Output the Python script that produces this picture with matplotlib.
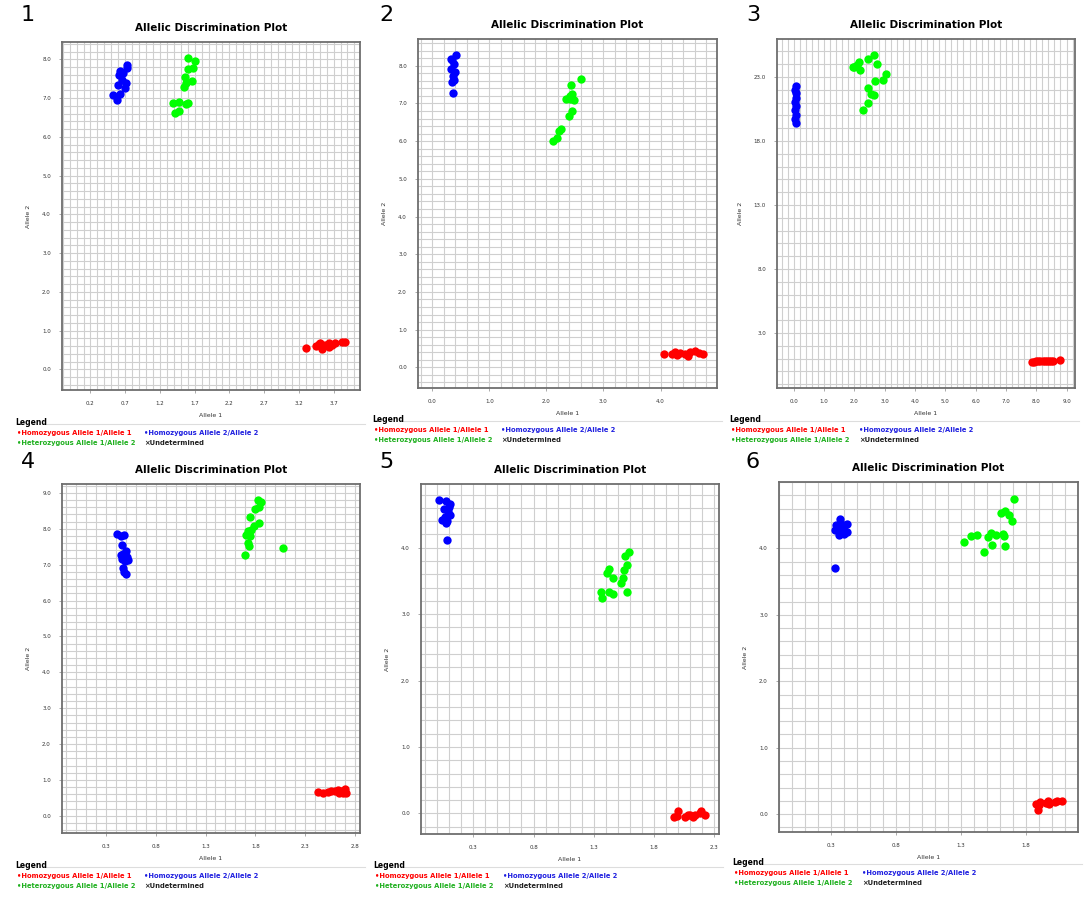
import matplotlib
matplotlib.use("Agg")
import matplotlib.pyplot as plt
from matplotlib.ticker import MultipleLocator, FixedLocator, FormatStrFormatter
from matplotlib.lines import Line2D

W, H = 1089, 921

# panel 1
p1_red_x = [3.30, 3.44, 3.49, 3.53, 3.58, 3.64, 3.68, 3.72, 3.82, 3.87, 3.51, 3.63]
p1_red_y = [0.55, 0.60, 0.65, 0.53, 0.62, 0.69, 0.62, 0.69, 0.72, 0.71, 0.69, 0.58]
p1_blue_x = [0.53, 0.585, 0.62, 0.60, 0.65, 0.71, 0.67, 0.72, 0.63, 0.70, 0.73, 0.61]
p1_blue_y = [7.08, 6.95, 7.11, 7.33, 7.48, 7.40, 7.66, 7.78, 7.70, 7.27, 7.85, 7.59]
p1_green_x = [1.39, 1.48, 1.42, 1.47, 1.575, 1.61, 1.55, 1.565, 1.66, 1.61, 1.67, 1.61, 1.70, 1.58]
p1_green_y = [6.88, 6.90, 6.62, 6.66, 6.86, 6.88, 7.29, 7.54, 7.44, 7.76, 7.78, 8.03, 7.97, 7.40]

# panel 2
p2_red_x = [4.06, 4.21, 4.29, 4.35, 4.43, 4.48, 4.52, 4.61, 4.67, 4.74, 4.26]
p2_red_y = [0.36, 0.36, 0.32, 0.39, 0.36, 0.30, 0.41, 0.43, 0.38, 0.36, 0.41]
p2_blue_x = [0.42, 0.35, 0.38, 0.33, 0.39, 0.36, 0.38, 0.35, 0.37, 0.32]
p2_blue_y = [8.28, 8.16, 8.05, 7.92, 7.83, 7.72, 7.61, 7.57, 7.29, 8.19]
p2_green_x = [2.12, 2.18, 2.22, 2.25, 2.40, 2.45, 2.35, 2.41, 2.49, 2.45, 2.44, 2.60, 2.41]
p2_green_y = [6.00, 6.08, 6.26, 6.33, 6.68, 6.79, 7.11, 7.13, 7.10, 7.26, 7.48, 7.64, 7.21]

# panel 3
p3_red_x = [7.87, 7.94, 8.01, 8.07, 8.14, 8.21, 8.29, 8.36, 8.43, 8.50, 8.56, 8.80]
p3_red_y = [0.73, 0.76, 0.78, 0.80, 0.81, 0.82, 0.83, 0.83, 0.83, 0.83, 0.83, 0.91]
p3_blue_x = [0.08, 0.07, 0.05, 0.09, 0.04, 0.08, 0.05, 0.07, 0.09, 0.03]
p3_blue_y = [22.30, 21.77, 21.07, 20.73, 20.42, 20.03, 19.69, 19.43, 21.33, 21.98]
p3_green_x = [2.00, 2.09, 2.17, 2.20, 2.46, 2.66, 2.74, 3.04, 2.94, 2.67, 2.44, 2.55, 2.66, 2.44, 2.28, 1.95]
p3_green_y = [23.81, 23.94, 24.17, 23.55, 24.38, 24.72, 24.02, 23.23, 22.77, 22.71, 22.14, 21.67, 21.59, 20.94, 20.42, 23.76]

# panel 4
p4_red_x = [2.43, 2.48, 2.53, 2.56, 2.60, 2.63, 2.66, 2.70, 2.71, 2.68, 2.64]
p4_red_y = [0.66, 0.64, 0.66, 0.70, 0.68, 0.72, 0.70, 0.75, 0.63, 0.63, 0.63]
p4_blue_x = [0.41, 0.45, 0.48, 0.46, 0.50, 0.47, 0.51, 0.46, 0.52, 0.49, 0.47, 0.48, 0.50, 0.45]
p4_blue_y = [7.85, 7.79, 7.82, 7.56, 7.37, 7.30, 7.21, 7.17, 7.14, 7.11, 6.91, 6.81, 6.74, 7.26]
p4_green_x = [1.70, 1.73, 1.74, 1.75, 1.73, 1.76, 1.79, 1.75, 1.84, 1.80, 1.84, 1.83, 1.86, 2.08, 1.71]
p4_green_y = [7.28, 7.60, 7.51, 7.79, 7.93, 7.97, 8.07, 8.32, 8.16, 8.56, 8.60, 8.79, 8.76, 7.46, 7.83]

# panel 5
p5_red_x = [1.97, 2.00, 1.99, 2.06, 2.08, 2.12, 2.14, 2.18, 2.19, 2.22, 2.10]
p5_red_y = [-0.05, 0.03, -0.04, -0.05, -0.02, -0.05, -0.02, 0.01, 0.03, -0.02, -0.02]
p5_blue_x = [0.015, 0.07, 0.11, 0.06, 0.09, 0.065, 0.11, 0.04, 0.08, 0.07, 0.10, 0.08]
p5_blue_y = [4.72, 4.70, 4.66, 4.59, 4.55, 4.47, 4.49, 4.42, 4.40, 4.37, 4.61, 4.12]
p5_green_x = [1.36, 1.37, 1.43, 1.46, 1.41, 1.43, 1.46, 1.53, 1.54, 1.55, 1.58, 1.56, 1.59, 1.58]
p5_green_y = [3.34, 3.25, 3.33, 3.30, 3.62, 3.68, 3.55, 3.47, 3.54, 3.67, 3.74, 3.87, 3.93, 3.34]

# panel 6
p6_red_x = [1.88, 1.89, 1.91, 1.95, 1.98, 2.02, 2.04, 2.08, 1.97, 1.90]
p6_red_y = [0.15, 0.06, 0.18, 0.16, 0.15, 0.18, 0.19, 0.19, 0.19, 0.14]
p6_blue_x = [0.33, 0.37, 0.34, 0.40, 0.42, 0.33, 0.36, 0.40, 0.42, 0.36, 0.40, 0.38]
p6_blue_y = [3.71, 4.44, 4.36, 4.35, 4.37, 4.28, 4.26, 4.28, 4.25, 4.20, 4.22, 4.33]
p6_green_x = [1.32, 1.38, 1.42, 1.48, 1.51, 1.53, 1.54, 1.57, 1.62, 1.63, 1.64, 1.61, 1.64, 1.67, 1.69, 1.71]
p6_green_y = [4.09, 4.18, 4.20, 3.94, 4.17, 4.23, 4.05, 4.20, 4.21, 4.19, 4.04, 4.54, 4.57, 4.50, 4.41, 4.75]

# tick values per panel
p1_xticks = [0.2, 0.7, 1.2, 1.7, 2.2, 2.7, 3.2, 3.7]
p1_yticks = [0, 1, 2, 3, 4, 5, 6, 7, 8]
p2_xticks = [0, 1, 2, 3, 4]
p2_yticks = [0, 1, 2, 3, 4, 5, 6, 7, 8]
p3_xticks = [0, 1, 2, 3, 4, 5, 6, 7, 8, 9]
p3_yticks = [3, 8, 13, 18, 23]
p4_xticks = [0.3, 0.8, 1.3, 1.8, 2.3, 2.8]
p4_yticks = [0, 1, 2, 3, 4, 5, 6, 7, 8, 9]
p5_xticks = [0.3, 0.8, 1.3, 1.8, 2.3]
p5_yticks = [0, 1, 2, 3, 4]
p6_xticks = [0.3, 0.8, 1.3, 1.8]
p6_yticks = [0, 1, 2, 3, 4]

panels = [
    # label, label pos px, axes box px (left, right, top, bottom), xlim, ylim, grid steps, data, ticks, legend origin, 2nd column x
    ("1", (28, 15), (62, 360, 42, 390), (-0.21, 4.08), (-0.53, 8.45), (0.1, 0.2),
     (p1_red_x, p1_red_y, p1_blue_x, p1_blue_y, p1_green_x, p1_green_y), p1_xticks, p1_yticks, (15, 422), 144),
    ("2", (386, 15), (418, 717, 39, 388), (-0.25, 4.99), (-0.55, 8.71), (0.2, 0.2),
     (p2_red_x, p2_red_y, p2_blue_x, p2_blue_y, p2_green_x, p2_green_y), p2_xticks, p2_yticks, (372, 419), 501),
    ("3", (753, 15), (777, 1075, 39, 388), (-0.55, 9.28), (-1.30, 25.97), (0.2, 1.0),
     (p3_red_x, p3_red_y, p3_blue_x, p3_blue_y, p3_green_x, p3_green_y), p3_xticks, p3_yticks, (729, 419), 859),
    ("4", (28, 462), (62, 360, 484, 833), (-0.14, 2.85), (-0.48, 9.25), (0.1, 0.2),
     (p4_red_x, p4_red_y, p4_blue_x, p4_blue_y, p4_green_x, p4_green_y), p4_xticks, p4_yticks, (15, 865), 144),
    ("5", (386, 462), (421, 719, 484, 834), (-0.134, 2.34), (-0.31, 4.96), (0.1, 0.2),
     (p5_red_x, p5_red_y, p5_blue_x, p5_blue_y, p5_green_x, p5_green_y), p5_xticks, p5_yticks, (373, 865), 503),
    ("6", (753, 462), (779, 1078, 482, 832), (-0.10, 2.20), (-0.27, 5.0), (0.1, 0.2),
     (p6_red_x, p6_red_y, p6_blue_x, p6_blue_y, p6_green_x, p6_green_y), p6_xticks, p6_yticks, (732, 862), 862),
]

RED = "#ff0000"
BLUE = "#0000ff"
GREEN = "#00ff00"
GRID = "#cfcfcf"

fig = plt.figure(figsize=(W / 100, H / 100), dpi=100)
fig.patch.set_facecolor("white")


def fx(x):
    return x / W


def fy(y):
    return 1 - y / H


for label, lpos, box, xlim, ylim, steps, data, xt, yt, leg, bluex in panels:
    l, r, t, b = box
    ax = fig.add_axes([fx(l), fy(b), (r - l) / W, (b - t) / H])
    rx, ry, bx, by, gx, gy = data
    ax.scatter(rx, ry, s=36, color=RED, zorder=3, linewidths=0)
    ax.scatter(bx, by, s=36, color=BLUE, zorder=3, linewidths=0)
    ax.scatter(gx, gy, s=36, color=GREEN, zorder=3, linewidths=0)
    ax.set_xlim(xlim)
    ax.set_ylim(ylim)
    ax.xaxis.set_major_locator(FixedLocator(xt))
    ax.yaxis.set_major_locator(FixedLocator(yt))
    ax.xaxis.set_major_formatter(FormatStrFormatter("%.1f"))
    ax.yaxis.set_major_formatter(FormatStrFormatter("%.1f"))
    ax.xaxis.set_minor_locator(MultipleLocator(steps[0]))
    ax.yaxis.set_minor_locator(MultipleLocator(steps[1]))
    ax.grid(which="both", color=GRID, linewidth=0.8, zorder=0)
    ax.set_axisbelow(True)
    ax.tick_params(which="major", labelsize=4, length=2, width=0.5, color="#888888", pad=6, labelcolor="#333333")
    ax.tick_params(which="minor", length=0)
    for sp in ax.spines.values():
        sp.set_color("#6e6e6e")
        sp.set_linewidth(1.3)
    ax.set_xlabel("Allele 1", fontsize=4.5, color="#333333", labelpad=5)
    ax.set_ylabel("Allele 2", fontsize=4.5, color="#333333", labelpad=8)
    ax.set_title("Allelic Discrimination Plot", fontsize=7.5, fontweight="bold", pad=8)

    # panel number
    fig.text(fx(lpos[0]), fy(lpos[1]), label, fontsize=16, va="center", ha="center")

    # legend block
    lx, ly = leg
    fig.text(fx(lx), fy(ly), "Legend", fontsize=5.5, fontweight="bold", va="center", ha="left")
    fig.add_artist(Line2D([fx(lx + 30), fx(lx + 350)], [fy(ly + 2), fy(ly + 2)], color="#dddddd", linewidth=0.8))
    fig.text(fx(lx + 2), fy(ly + 11), "\u2022Homozygous Allele 1/Allele 1", fontsize=4.9,
             fontweight="bold", color=RED, va="center", ha="left")
    fig.text(fx(bluex), fy(ly + 11), "\u2022Homozygous Allele 2/Allele 2", fontsize=4.9,
             fontweight="bold", color="#2020e0", va="center", ha="left")
    fig.text(fx(lx + 2), fy(ly + 21), "\u2022Heterozygous Allele 1/Allele 2", fontsize=4.9,
             fontweight="bold", color="#20b020", va="center", ha="left")
    fig.text(fx(bluex), fy(ly + 21), "\u00d7Undetermined", fontsize=4.9,
             fontweight="bold", color="#222222", va="center", ha="left")

plt.savefig("out.png", dpi=100)
